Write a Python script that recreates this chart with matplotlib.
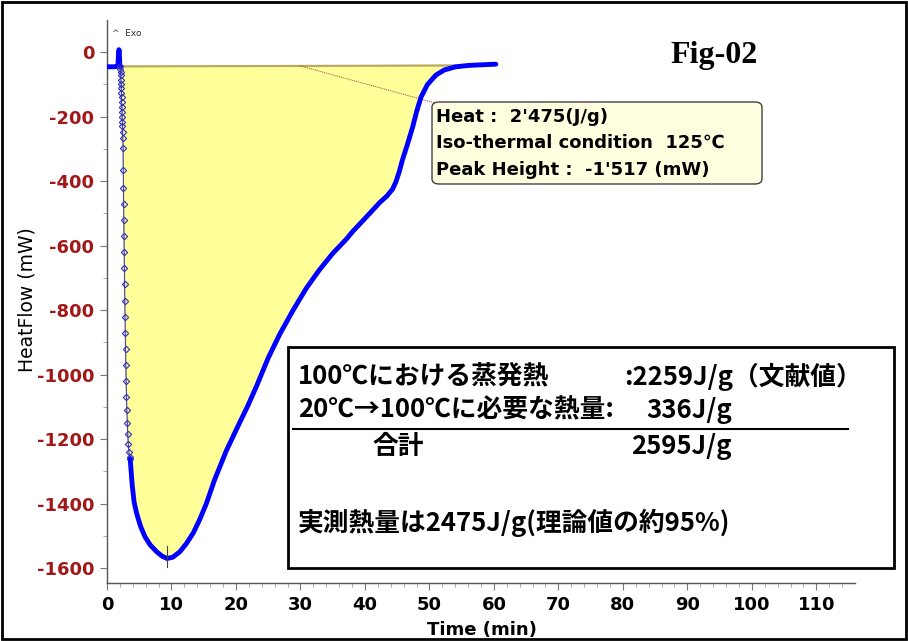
import numpy as np
import matplotlib
matplotlib.use("Agg")
import matplotlib.pyplot as plt
from matplotlib.patches import Rectangle, FancyBboxPatch

plt.rcParams["axes.unicode_minus"] = False

W, H = 908, 641

# baseline before the drop (min, mW)
time_pre = [0, 0.5, 1.0, 1.5, 1.7, 1.75, 1.8, 1.85, 1.9, 1.95, 2.0, 2.05]
hf_pre = [-45, -45, -45, -44, -42, -20, 0, 8, 5, -20, -42, -44]

# fast drop, shown with markers
time_drop = [2.05, 2.08, 2.1, 2.13, 2.15, 2.18, 2.2, 2.23, 2.25, 2.28, 2.3,
             2.33, 2.35, 2.38, 2.4, 2.43, 2.45, 2.5, 2.52, 2.55, 2.58, 2.61,
             2.64, 2.67, 2.7, 2.73, 2.76, 2.8, 2.84, 2.88, 2.92, 2.97, 3.02,
             3.08, 3.15, 3.22, 3.3, 3.4, 3.5, 3.6]
hf_drop = [-44, -52, -60, -72, -85, -98, -110, -125, -140, -155, -170, -185,
           -200, -215, -230, -248, -265, -298, -366, -420, -470, -520, -570,
           -620, -670, -720, -770, -820, -870, -920, -970, -1020, -1070,
           -1110, -1150, -1185, -1215, -1240, -1255, -1262]

# main endotherm
time_main = [3.6, 3.9, 4.2, 4.6, 5.2, 5.9, 6.7, 7.7, 8.5, 9.3, 10.2, 11.3, 12.3,
             13.4, 14.4, 15.4, 16.7, 18.5, 20.3, 21.8, 23.2, 25.0, 26.8, 28.8,
             30.9, 32.9, 35.0, 37.1, 38.1, 39.7, 41.0, 42.3, 43.4, 44.3, 44.8,
             45.3, 45.8, 46.6, 47.4, 48.0, 48.7, 49.7, 51.0, 52.3, 54.1, 56.0,
             58.0, 60.3]
hf_main = [-1262, -1340, -1395, -1430, -1470, -1503, -1528, -1549, -1562, -1570,
           -1566, -1549, -1524, -1490, -1448, -1400, -1325, -1236, -1160, -1098,
           -1035, -948, -874, -802, -732, -676, -624, -580, -556, -522, -494,
           -466, -446, -424, -402, -372, -335, -285, -232, -185, -139, -100,
           -71, -55, -45, -41, -39, -37]

# integration baseline and peak
base_t = [2.05, 54.1]
base_hf = [-44, -41]
peak_t = 9.3
peak_hf = [-1530, -1595]
leader_t = [29.9, 50.8]
leader_hf = [-42, -157]

x_ticks = list(range(0, 111, 10))
y_ticks = list(range(-1600, 1, 200))

fig = plt.figure(figsize=(W / 100, H / 100), dpi=100)
ax = fig.add_axes([107 / W, 1 - 583 / H, (855 - 107) / W, (583 - 20) / H])

# yellow integrated area
fill_t = time_drop + time_main[1:]
fill_hf = hf_drop + hf_main[1:]
fill_t = [t for t in fill_t if t <= base_t[1]]
fill_hf = fill_hf[:len(fill_t)]
ax.fill(fill_t + [base_t[1]], fill_hf + [base_hf[1]], facecolor="#FFFF99",
        edgecolor="#C8B870", lw=1.0, zorder=1)
ax.plot(base_t, base_hf, color="#B8A860", lw=1.5, zorder=2)

ax.plot(time_pre, hf_pre, color="#0000FF", lw=3.5, zorder=4)
ax.plot(time_drop, hf_drop, color="#3030C0", lw=0.6, marker="D", ms=3.2,
        mfc="none", mec="#3030C0", mew=0.8, zorder=4)
ax.plot(time_main, hf_main, color="#0000FF", lw=3.5, solid_capstyle="round",
        solid_joinstyle="round", zorder=4)
ax.plot([peak_t, peak_t], peak_hf, color="#404040", lw=0.8, zorder=5)
ax.plot(leader_t, leader_hf, color="#A04040", lw=0.7, ls=(0, (1, 1)), zorder=3)

ax.set_xlim(0, 116)
ax.set_ylim(-1646, 100)
ax.set_xticks(x_ticks)
ax.set_yticks(y_ticks)
ax.set_xticks(np.arange(0, 116, 2), minor=True)
ax.set_yticks(np.arange(-1600, 100, 100), minor=True)
for s in ["top", "right"]:
    ax.spines[s].set_visible(False)
for s in ["left", "bottom"]:
    ax.spines[s].set_color("#555555")
    ax.spines[s].set_linewidth(1.0)
ax.tick_params(which="major", length=5, color="#777777", pad=4)
ax.tick_params(which="minor", length=3, color="#999999")
ax.tick_params(axis="y", labelcolor="#A01818")
for lab in ax.get_yticklabels():
    lab.set_fontsize(13)
    lab.set_fontweight("bold")
for lab in ax.get_xticklabels():
    lab.set_fontsize(13)
    lab.set_fontweight("bold")

def fx(x):
    return x / W

def fy(y):
    return 1 - y / H

fig.text(fx(27), fy(300), "HeatFlow (mW)", rotation=90, fontsize=13.5,
         ha="center", va="center")
fig.text(fx(482), fy(630), "Time (min)", fontsize=13, fontweight="bold",
         ha="center", va="center")
fig.text(fx(112), fy(33), "^  Exo", fontsize=6.5, color="#333333",
         ha="left", va="center")
fig.text(fx(714), fy(55), "Fig-02", fontsize=23, fontweight="bold",
         family="Liberation Serif", ha="center", va="center")

# annotation box
box = FancyBboxPatch((fx(432), fy(184)), fx(762 - 432), (184 - 102) / H,
                     boxstyle="round,pad=0,rounding_size=0.008",
                     transform=fig.transFigure, facecolor="#FFFFE0",
                     edgecolor="#404040", lw=1.0)
fig.add_artist(box)
heat_lines = ["Heat :  2'475(J/g)", "Iso-thermal condition  125℃",
              "Peak Height :  -1'517 (mW)"]
for yy, s in zip([117, 143, 170], heat_lines):
    fig.text(fx(436), fy(yy), s, fontsize=13, fontweight="bold",
             family=["DejaVu Sans", "Noto Sans CJK JP"], ha="left", va="center")

# comparison box
rect = Rectangle((fx(288), fy(568)), fx(894 - 288), (568 - 347) / H,
                 transform=fig.transFigure, facecolor="white",
                 edgecolor="black", lw=2.0)
fig.add_artist(rect)
jp = ["Noto Sans CJK JP", "DejaVu Sans"]
kw = dict(fontsize=18.5, fontweight="bold", family=jp, va="center")
fig.text(fx(298), fy(377), "100℃における蒸発熱", ha="left", **kw)
fig.text(fx(624), fy(377), ":2259J/g（文献値）", ha="left", **kw)
fig.text(fx(298), fy(410), "20℃→100℃に必要な熱量:", ha="left", **kw)
fig.text(fx(732), fy(410), "336J/g", ha="right", **kw)
fig.add_artist(plt.Line2D([fx(293), fx(848)], [fy(429), fy(429)],
                          transform=fig.transFigure, color="black", lw=1.5))
fig.text(fx(372), fy(447), "合計", ha="left", **kw)
fig.text(fx(732), fy(447), "2595J/g", ha="right", **kw)
fig.text(fx(298), fy(523), "実測熱量は2475J/g(理論値の約95%)", ha="left", **kw)

# outer frame
fig.add_artist(Rectangle((0.002, 0.003), 0.996, 0.994, transform=fig.transFigure,
                         fill=False, edgecolor="black", lw=2.0))

fig.savefig("out.png", dpi=100)
